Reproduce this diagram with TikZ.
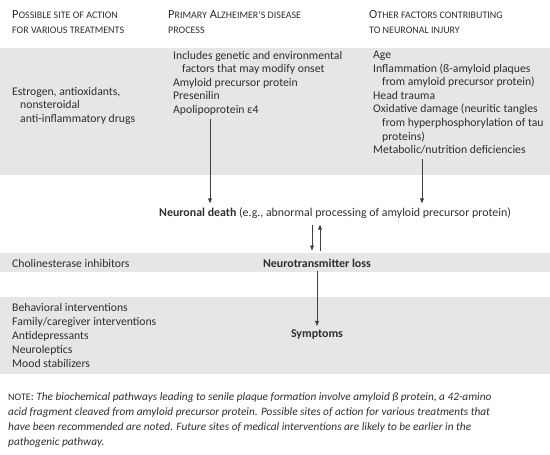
\documentclass[tikz,border=0pt]{standalone}
\usepackage{fontspec}
\setmainfont{Carlito}
\usetikzlibrary{arrows.meta}

\definecolor{bandgray}{HTML}{E6E6E6}
\definecolor{inkgray}{HTML}{2E2E2E}
\newcommand{\smc}[2]{#1{\fontsize{10}{10}\selectfont #2}}

\tikzset{
  hd/.style={anchor=west, inner sep=0pt, align=left, text=inkgray,
    font=\fontsize{12.4}{15}\selectfont},
  body/.style={anchor=west, inner sep=0pt, align=left, text=inkgray,
    font=\fontsize{11.7}{13.6}\selectfont},
  flow/.style={inner sep=4pt, text=inkgray, font=\fontsize{11.9}{13.6}\selectfont},
  arr/.style={draw=black!75, line width=0.8pt, -{Triangle[length=5pt,width=3.8pt]}},
  band/.style={fill=bandgray, draw=none}
}

\begin{document}
\begin{tikzpicture}[x=1pt,y=-1pt]
\useasboundingbox (0,0) rectangle (550,455);

% Grey bands
\fill[band] (0,48) rectangle (550,175);
\fill[band] (0,253) rectangle (550,272);
\fill[band] (0,297) rectangle (550,374);

% Column heads
\node[hd] (hdsite) at (12,22) {\smc{P}{OSSIBLE SITE OF ACTION}\\\smc{}{FOR VARIOUS TREATMENTS}};
\node[hd] (hdprim) at (168,22) {\smc{P}{RIMARY} \smc{A}{LZHEIMER'S DISEASE}\\\smc{}{PROCESS}};
\node[hd] (hdother) at (369,22) {\smc{O}{THER FACTORS CONTRIBUTING}\\\smc{}{TO NEURONAL INJURY}};

% Top band
\node[body] (estrogen) at (12,105.6) {Estrogen, antioxidants,\\\hspace*{8pt}nonsteroidal\\\hspace*{8pt}anti-inflammatory drugs};
\node[body] (prim) at (173,83.2) {Includes genetic and environmental\\\hspace*{9pt}factors that may modify onset\\Amyloid precursor protein\\Presenilin\\Apolipoprotein ε4};
\node[body] (other) at (373,102.6) {Age\\Inflammation (ß-amyloid plaques\\\hspace*{9pt}from amyloid precursor protein)\\Head trauma\\Oxidative damage (neuritic tangles\\\hspace*{9pt}from hyperphosphorylation of tau\\\hspace*{9pt}proteins)\\Metabolic/nutrition deficiencies};

% Pathway
\node[flow, anchor=west] (death) at (155,213) {\textbf{Neuronal death} (e.g., abnormal processing of amyloid precursor protein)};
\node[flow] (ntl) at (317,263) {\textbf{Neurotransmitter loss}};
\node[flow] (symp) at (317,335) {\textbf{Symptoms}};

\node[body] (chol) at (12,263) {Cholinesterase inhibitors};
\node[body, font=\fontsize{11.7}{14.2}\selectfont] (behav) at (12,335.5) {Behavioral interventions\\Family/caregiver interventions\\Antidepressants\\Neuroleptics\\Mood stabilizers};

% Arrows
\coordinate (pa) at (210,0);
\coordinate (oa) at (422,0);
\coordinate (dn) at (312,0);
\coordinate (up) at (320,0);
\draw[arr, shorten <=3pt] (prim.south -| pa) -- (death.north -| pa);
\draw[arr, shorten <=5pt] (other.south -| oa) -- (death.north -| oa);
\draw[arr, shorten <=2pt, shorten >=4pt] (death.south -| dn) -- (ntl.north -| dn);
\draw[arr, shorten <=4pt, shorten >=2pt] (ntl.north -| up) -- (death.south -| up);
\draw[arr] (ntl.south) -- (symp.north);

% Note
\node[body, font=\fontsize{11.3}{15}\selectfont] (note) at (8,420.5) {\smc{}{NOTE}: \textit{The biochemical pathways leading to senile plaque formation involve amyloid ß protein, a 42-amino}\\\textit{acid fragment cleaved from amyloid precursor protein. Possible sites of action for various treatments that}\\\textit{have been recommended are noted. Future sites of medical interventions are likely to be earlier in the}\\\textit{pathogenic pathway.}};
\end{tikzpicture}
\end{document}
